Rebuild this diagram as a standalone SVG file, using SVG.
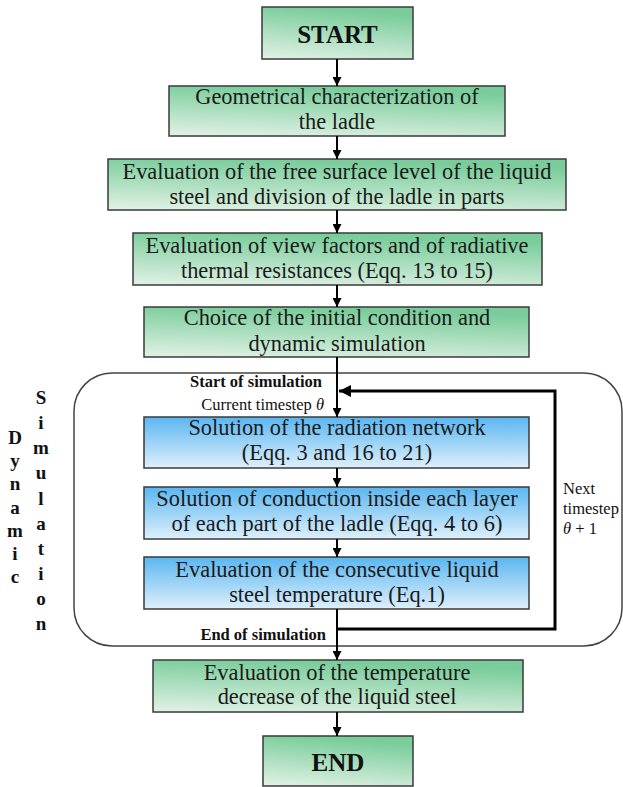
<svg xmlns="http://www.w3.org/2000/svg" width="623" height="787" viewBox="0 0 623 787">
<defs>
<linearGradient id="g" x1="0" y1="1" x2="0.25" y2="0">
<stop offset="0" stop-color="#e2f2e6"/>
<stop offset="1" stop-color="#7acd9b"/>
</linearGradient>
<linearGradient id="b" x1="0" y1="0" x2="0" y2="1">
<stop offset="0" stop-color="#5ab6f0"/>
<stop offset="1" stop-color="#def0fc"/>
</linearGradient>
<marker id="ah" viewBox="0 0 10 10" refX="10" refY="5" markerWidth="9" markerHeight="9" markerUnits="userSpaceOnUse" orient="auto">
<path d="M0,0 L10,5 L0,10 z" fill="#000"/>
</marker>
<marker id="ah2" viewBox="0 0 10 10" refX="10" refY="5" markerWidth="12" markerHeight="12" markerUnits="userSpaceOnUse" orient="auto">
<path d="M0,0 L10,5 L0,10 z" fill="#000"/>
</marker>
</defs>
<style>
.gb{fill:url(#g);stroke:#3a3a3a;stroke-width:1.5}
.bb{fill:url(#b);stroke:#3a3a3a;stroke-width:1.5}
.t{font-family:"Liberation Serif","Times New Roman",serif;font-size:22.4px;fill:#1a1a1a;text-anchor:middle}
.h{font-family:"Liberation Serif","Times New Roman",serif;font-size:25px;font-weight:bold;fill:#111;text-anchor:middle}
.s{font-family:"Liberation Serif","Times New Roman",serif;font-size:16.5px;fill:#111}
.sb{font-family:"Liberation Serif","Times New Roman",serif;font-size:16.5px;font-weight:bold;fill:#111;text-anchor:end}
.v{font-family:"Liberation Serif","Times New Roman",serif;font-size:19px;font-weight:bold;fill:#111;text-anchor:middle}
.a{stroke:#000;stroke-width:2;fill:none;marker-end:url(#ah)}
</style>
<rect width="623" height="787" fill="#fff"/>

<g id="loop-region">
<rect x="74" y="373" width="548" height="273" rx="38" ry="38" fill="none" stroke="#444" stroke-width="1.5"/>
</g>

<g id="label-dynamic">
<text class="v" x="15" y="444">D</text>
<text class="v" x="15" y="467">y</text>
<text class="v" x="15" y="490">n</text>
<text class="v" x="15" y="514">a</text>
<text class="v" x="15" y="537">m</text>
<text class="v" x="15" y="560">i</text>
<text class="v" x="15" y="583">c</text>
</g>
<g id="label-simulation">
<text class="v" x="41" y="404">S</text>
<text class="v" x="41" y="429">i</text>
<text class="v" x="41" y="454">m</text>
<text class="v" x="41" y="479">u</text>
<text class="v" x="41" y="505">l</text>
<text class="v" x="41" y="530">a</text>
<text class="v" x="41" y="555">t</text>
<text class="v" x="41" y="580">i</text>
<text class="v" x="41" y="605">o</text>
<text class="v" x="41" y="630">n</text>
</g>

<g id="start">
<rect class="gb" x="262" y="7" width="151" height="52"/>
<text class="h" x="337.5" y="43">START</text>
</g>
<g id="n1">
<rect class="gb" x="169" y="86" width="336" height="50"/>
<text class="t" x="337" y="104">Geometrical characterization of</text>
<text class="t" x="337" y="129">the ladle</text>
</g>
<g id="n2">
<rect class="gb" x="108" y="159" width="458" height="51"/>
<text class="t" x="337" y="179">Evaluation of the free surface level of the liquid</text>
<text class="t" x="337" y="204">steel and division of the ladle in parts</text>
</g>
<g id="n3">
<rect class="gb" x="133" y="233" width="409" height="52"/>
<text class="t" x="337" y="253">Evaluation of view factors and of radiative</text>
<text class="t" x="337" y="278">thermal resistances (Eqq. 13 to 15)</text>
</g>
<g id="n4">
<rect class="gb" x="144" y="307" width="385" height="50"/>
<text class="t" x="337" y="325">Choice of the initial condition and</text>
<text class="t" x="337" y="351">dynamic simulation</text>
</g>
<g id="n5">
<rect class="bb" x="144" y="417" width="385" height="51"/>
<text class="t" x="337" y="435">Solution of the radiation network</text>
<text class="t" x="337" y="460">(Eqq. 3 and 16 to 21)</text>
</g>
<g id="n6">
<rect class="bb" x="144" y="487" width="385" height="52"/>
<text class="t" x="337" y="506">Solution of conduction inside each layer</text>
<text class="t" x="337" y="531">of each part of the ladle (Eqq. 4 to 6)</text>
</g>
<g id="n7">
<rect class="bb" x="144" y="557" width="385" height="52"/>
<text class="t" x="337" y="577">Evaluation of the consecutive liquid</text>
<text class="t" x="337" y="602">steel temperature (Eq.1)</text>
</g>
<g id="n8">
<rect class="gb" x="153" y="660" width="370" height="52"/>
<text class="t" x="337" y="680">Evaluation of the temperature</text>
<text class="t" x="337" y="704">decrease of the liquid steel</text>
</g>
<g id="end">
<rect class="gb" x="263" y="736" width="150" height="50"/>
<text class="h" x="338" y="771">END</text>
</g>

<g id="connectors">
<line class="a" x1="337" y1="59" x2="337" y2="86"/>
<line class="a" x1="337" y1="136" x2="337" y2="159"/>
<line class="a" x1="337" y1="210" x2="337" y2="233"/>
<line class="a" x1="337" y1="285" x2="337" y2="307"/>
<line class="a" x1="337" y1="357" x2="337" y2="417"/>
<line class="a" x1="337" y1="468" x2="337" y2="487"/>
<line class="a" x1="337" y1="539" x2="337" y2="557"/>
<line class="a" x1="337" y1="609" x2="337" y2="660"/>
<line class="a" x1="337" y1="712" x2="337" y2="736"/>
<polyline points="337,629 555,629 555,391 339,391" fill="none" stroke="#000" stroke-width="3" marker-end="url(#ah2)"/>
</g>

<g id="labels">
<text class="sb" x="322" y="387">Start of simulation</text>
<text class="s" x="324" y="410" text-anchor="end">Current timestep <tspan font-style="italic">θ</tspan></text>
<text class="sb" x="326" y="640">End of simulation</text>
<text class="s" x="563" y="494">Next</text>
<text class="s" x="563" y="514">timestep</text>
<text class="s" x="563" y="534"><tspan font-style="italic">θ</tspan> + 1</text>
</g>
</svg>
